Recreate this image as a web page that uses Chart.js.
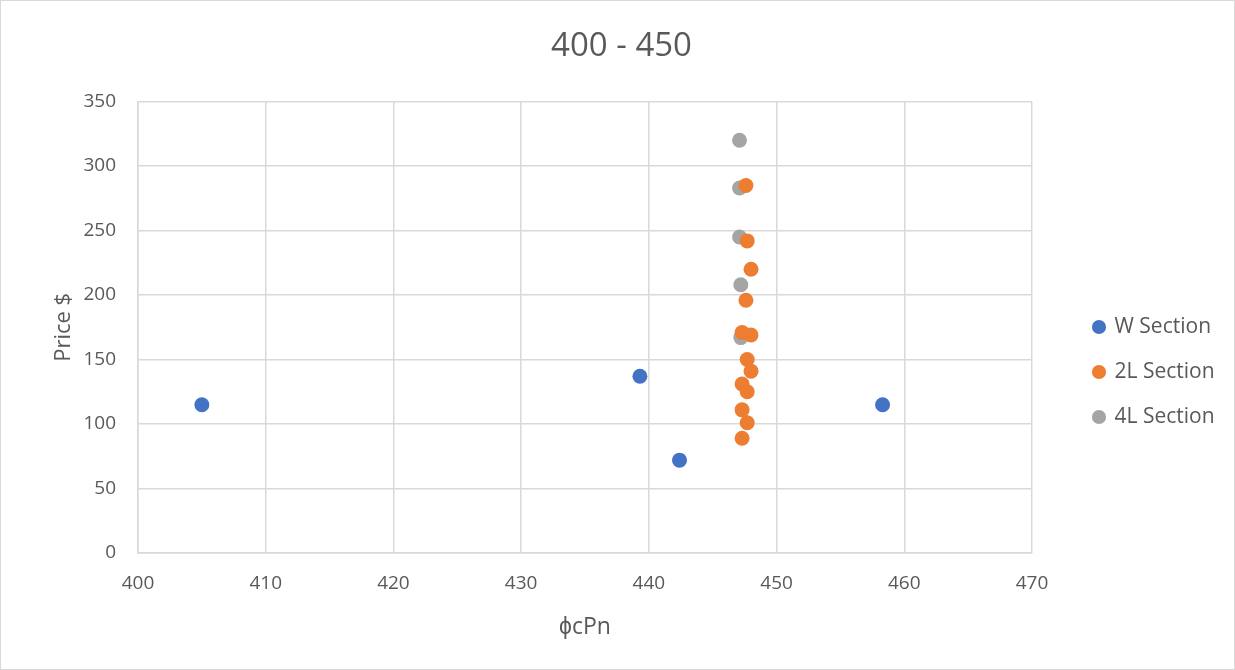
<!DOCTYPE html>
<html>
<head>
<meta charset="utf-8">
<script src="https://cdn.jsdelivr.net/npm/chart.js@4"></script>
<style>
  html, body { margin: 0; padding: 0; background: #ffffff; }
  #wrap { position: relative; width: 1233px; height: 668px; border: 1px solid #d9d9d9; }
  canvas { display: block; }
</style>
</head>
<body>
<div id="wrap"><canvas id="c" width="1233" height="668"></canvas></div>
<script>
// W sections
const wX = [405.0, 439.3, 442.4, 458.3];
const wY = [115, 137, 72, 115];

// Double-angle (2L) sections
const l2X = [447.6, 447.7, 448.0, 447.6, 447.3, 448.0, 447.7, 448.0, 447.3, 447.7, 447.3, 447.7, 447.3];
const l2Y = [285, 242, 220, 196, 171, 169, 150, 141, 131, 125, 111, 101, 89];

// Quad-angle (4L) sections
const l4X = [447.1, 447.1, 447.1, 447.2, 447.2];
const l4Y = [320, 283, 245, 208, 167];

const xTicks = [400, 410, 420, 430, 440, 450, 460, 470];
const yTicks = [0, 50, 100, 150, 200, 250, 300, 350];

const toPoints = (xs, ys) => xs.map((x, i) => ({ x: x, y: ys[i] }));

const FONT = "'Open Sans', 'Liberation Sans', sans-serif";
const TEXT = '#595959';
const GRID = '#d9d9d9';

// Centre the title on the canvas and put the legend right of the plot
const blockPlacer = {
  id: 'blockPlacer',
  afterLayout(chart) {
    const tb = chart.titleBlock;
    if (tb) {
      tb.left = 8;
      tb.right = chart.width;
      tb.width = tb.right - tb.left;
    }
    const lg = chart.legend;
    if (!lg) return;
    const h = lg.bottom - lg.top;
    lg.left = 1069;
    lg.right = 1233;
    lg.width = lg.right - lg.left;
    lg.top = 291.5;
    lg.bottom = lg.top + Math.max(h, 200);
    lg.height = lg.bottom - lg.top;
  }
};

new Chart(document.getElementById('c'), {
  type: 'scatter',
  data: {
    datasets: [
      { label: 'W Section', data: toPoints(wX, wY), backgroundColor: '#4472c4', borderColor: '#4472c4' },
      { label: '2L Section', data: toPoints(l2X, l2Y), backgroundColor: '#ed7d31', borderColor: '#ed7d31' },
      { label: '4L Section', data: toPoints(l4X, l4Y), backgroundColor: '#a5a5a5', borderColor: '#a5a5a5' }
    ]
  },
  plugins: [blockPlacer],
  options: {
    responsive: false,
    animation: false,
    layout: { padding: { left: 40, right: 82, top: 20, bottom: 23 } },
    elements: { point: { radius: 7.5, borderWidth: 0, hoverRadius: 7.5 } },
    plugins: {
      title: {
        display: true,
        text: '400 - 450',
        color: TEXT,
        font: { family: FONT, size: 33, weight: 'normal' },
        padding: { top: 6, bottom: 35 }
      },
      legend: {
        position: 'right',
        align: 'start',
        maxWidth: 120,
        labels: {
          usePointStyle: true,
          pointStyle: 'circle',
          boxWidth: 10,
          boxHeight: 10,
          padding: 24,
          color: TEXT,
          font: { family: FONT, size: 21 }
        }
      },
      tooltip: { enabled: false }
    },
    scales: {
      x: {
        type: 'linear',
        min: 400,
        max: 470,
        afterBuildTicks: (axis) => { axis.ticks = xTicks.map(v => ({ value: v })); },
        afterFit: (axis) => { axis.height = 93; },
        grid: { color: GRID, lineWidth: 1.5, drawTicks: false },
        border: { color: GRID, width: 1.5 },
        ticks: { color: TEXT, font: { family: FONT, size: 19 }, padding: 19 },
        title: { display: true, text: 'ϕcPn', color: TEXT, font: { family: FONT, size: 23 }, padding: { top: 0, bottom: 5 } }
      },
      y: {
        type: 'linear',
        min: 0,
        max: 350,
        afterBuildTicks: (axis) => { axis.ticks = yTicks.map(v => ({ value: v })); },
        afterFit: (axis) => { axis.width = 97; },
        grid: { color: GRID, lineWidth: 1.5, drawTicks: false },
        border: { color: GRID, width: 1.5 },
        ticks: { color: TEXT, font: { family: FONT, size: 19 }, padding: 22 },
        title: { display: true, text: 'Price $', color: TEXT, font: { family: FONT, size: 22 }, padding: { top: 10, bottom: 0 } }
      }
    }
  }
});
</script>
</body>
</html>
